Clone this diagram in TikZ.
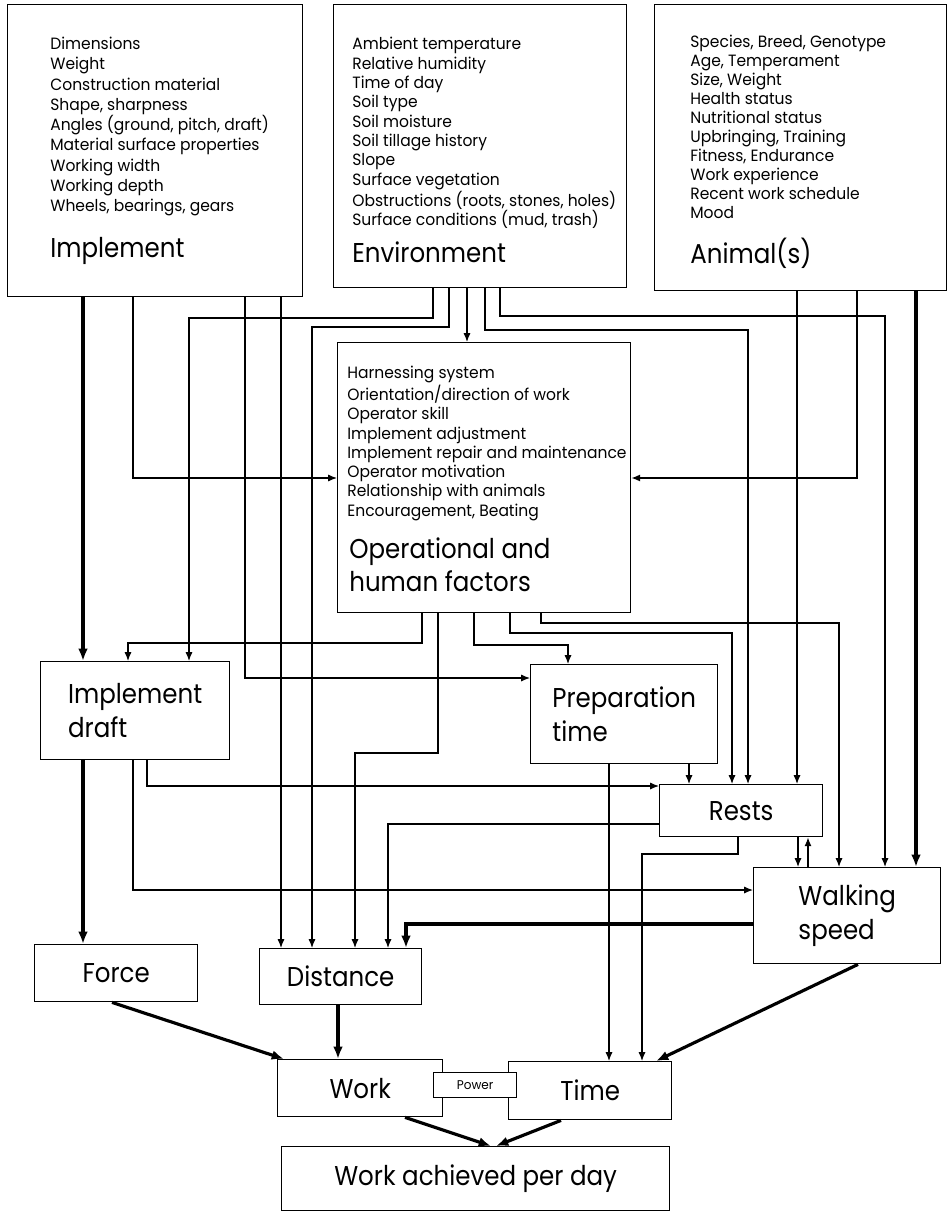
\documentclass[tikz,border=0pt]{standalone}
\usepackage{fontspec}
\setmainfont{Poppins}[FakeStretch=0.95]
\newfontfamily\titlefamily{Poppins}[FakeStretch=0.9]
\usetikzlibrary{arrows.meta}

\newcommand{\boxtitlefont}{\titlefamily\fontsize{15.5}{19}\selectfont}
\newcommand{\itemfont}{\fontsize{9.3}{11}\selectfont}

\begin{document}
\begin{tikzpicture}[x=0.02cm, y=-0.02cm,
        box/.style={draw, line width=0.8pt, inner sep=0pt, anchor=north west, align=left, font=\boxtitlefont},
        items/.style={inner sep=0pt, anchor=north west, align=left, font=\itemfont},
        heading/.style={inner sep=0pt, anchor=north west, align=left, font=\boxtitlefont},
        link/.style={line width=0.7pt, -{Latex[length=5pt, width=4pt]}},
        mainlink/.style={line width=1.8pt, -{Latex[length=7pt, width=5.5pt]}}]
    \useasboundingbox (0,0) rectangle (947,1230);

    \node[box, minimum width=5.90cm, minimum height=5.84cm] (impl) at (7,4) {};
    \node[items, font=\fontsize{9.3}{11.5}\selectfont] (impl-items) at ([shift={(43,33)}]impl.north west) {Dimensions\\Weight\\Construction material\\Shape, sharpness\\Angles (ground, pitch, draft)\\Material surface properties\\Working width\\Working depth\\Wheels, bearings, gears};
    \node[heading] (impl-title) at ([shift={(43,233)}]impl.north west) {Implement};

    \node[box, minimum width=5.86cm, minimum height=5.66cm] (env) at (333,4) {};
    \node[items] (env-items) at ([shift={(19,33)}]env.north west) {Ambient temperature\\Relative humidity\\Time of day\\Soil type\\Soil moisture\\Soil tillage history\\Slope\\Surface vegetation\\Obstructions (roots, stones, holes)\\Surface conditions (mud, trash)};
    \node[heading] (env-title) at ([shift={(19,237)}]env.north west) {Environment};

    \node[box, minimum width=5.84cm, minimum height=5.72cm] (anim) at (654,4) {};
    \node[items, font=\fontsize{9.3}{10.8}\selectfont] (anim-items) at ([shift={(36,31)}]anim.north west) {Species, Breed, Genotype\\Age, Temperament\\Size, Weight\\Health status\\Nutritional status\\Upbringing, Training\\Fitness, Endurance\\Work experience\\Recent work schedule\\Mood};
    \node[heading] (anim-title) at ([shift={(36,234)}]anim.north west) {Animal(s)};

    \node[box, minimum width=5.86cm, minimum height=5.40cm] (oper) at (337,342) {};
    \node[items] (oper-items) at ([shift={(10,24)}]oper.north west) {Harnessing system\\Orientation/direction of work\\Operator skill\\Implement adjustment\\Implement repair and maintenance\\Operator motivation\\Relationship with animals\\Encouragement, Beating};
    \node[heading] (oper-title) at ([shift={(12,195)}]oper.north west) {Operational and\\human factors};

    \node[box, minimum width=3.78cm, minimum height=1.96cm] (draft) at (40,661) {Implement\\draft};
    \node[box, minimum width=3.74cm, minimum height=1.98cm] (prep) at (530,664) {Preparation\\time};
    \node[box, minimum width=3.26cm, minimum height=1.04cm] (rests) at (659,784) {Rests};
    \node[box, minimum width=3.74cm, minimum height=1.92cm] (walk) at (753,867) {Walking\\speed};
    \node[box, minimum width=3.26cm, minimum height=1.14cm] (force) at (34,944) {Force};
    \node[box, minimum width=3.24cm, minimum height=1.12cm] (dist) at (259,948) {Distance};
    \node[box, minimum width=3.30cm, minimum height=1.14cm] (work) at (277,1059) {Work};
    \node[box, minimum width=3.26cm, minimum height=1.16cm] (time) at (508,1061) {Time};
    \node[box, fill=white, minimum width=1.66cm, minimum height=0.50cm, align=center, font=\fontsize{7.2}{8}\selectfont] (power) at (433,1072) {Power};
    \node[box, minimum width=7.76cm, minimum height=1.28cm] (day) at (281,1146) {Work achieved per day};

    \draw[mainlink] (83,0 |- impl.south) -- (83,0 |- draft.north);
    \draw[link] (133,0 |- impl.south) |- (oper.west |- 0,478);
    \draw[link] (245,0 |- impl.south) |- (prep.west |- 0,678);
    \draw[link] (281,0 |- impl.south) -- (281,0 |- dist.north);

    \draw[link] (433,0 |- env.south) |- (189,318) -- (189,0 |- draft.north);
    \draw[link] (449,0 |- env.south) |- (312,327) -- (312,0 |- dist.north);
    \draw[link] (467,0 |- env.south) -- (467,0 |- oper.north);
    \draw[link] (485,0 |- env.south) |- (748,330) -- (748,0 |- rests.north);
    \draw[link] (500,0 |- env.south) |- (885,316) -- (885,0 |- walk.north);

    \draw[link] (797,0 |- anim.south) -- (797,0 |- rests.north);
    \draw[link] (857,0 |- anim.south) |- (oper.east |- 0,478);
    \draw[mainlink] (916,0 |- anim.south) -- (916,0 |- walk.north);

    \draw[link] (422,0 |- oper.south) |- (128,643) -- (128,0 |- draft.north);
    \draw[link] (438,0 |- oper.south) |- (355,753) -- (355,0 |- dist.north);
    \draw[link] (474,0 |- oper.south) |- (568,645) -- (568,0 |- prep.north);
    \draw[link] (510,0 |- oper.south) |- (732,633) -- (732,0 |- rests.north);
    \draw[link] (541,0 |- oper.south) |- (839,623) -- (839,0 |- walk.north);

    \draw[mainlink] (83,0 |- draft.south) -- (83,0 |- force.north);
    \draw[link] (147,0 |- draft.south) |- (rests.west |- 0,786);
    \draw[link] (133,0 |- draft.south) |- (walk.west |- 0,890);

    \draw[link] (689,0 |- prep.south) -- (689,0 |- rests.north);
    \draw[link] (609,0 |- prep.south) -- (609,0 |- time.north);

    \draw[link] (rests.west |- 0,824) -| (388,0 |- dist.north);
    \draw[link] (738,0 |- rests.south) |- (642,854) -- (642,0 |- time.north);
    \draw[link] (798,0 |- rests.south) -- (798,0 |- walk.north);
    \draw[link] (808,0 |- walk.north) -- (808,0 |- rests.south);

    \draw[mainlink] (walk.west |- 0,924) -| (406,0 |- dist.north);
    \draw[mainlink] (858,0 |- walk.south) -- (656,0 |- time.north);

    \draw[mainlink] (112,0 |- force.south) -- (284,0 |- work.north);
    \draw[mainlink] (338,0 |- dist.south) -- (338,0 |- work.north);
    \draw[mainlink] (405,0 |- work.south) -- (491,0 |- day.north);
    \draw[mainlink] (561,0 |- time.south) -- (496,0 |- day.north);
\end{tikzpicture}
\end{document}
